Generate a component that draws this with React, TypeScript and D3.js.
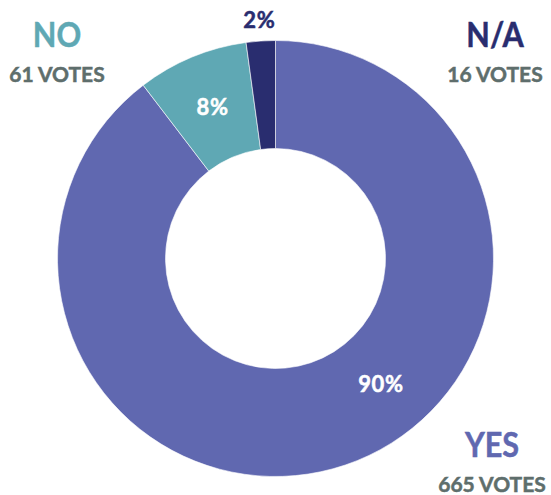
import * as d3 from 'd3';

// Poll answers, clockwise from 12 o'clock
const answers = ['YES', 'NO', 'N/A'];
const votes = [665, 61, 16];
const percentLabels = ['90%', '8%', '2%'];
const colors = ['#6068B0', '#5FA8B4', '#292D6F'];

const W = 551;
const H = 495;
const cx = 275.5;
const cy = 258.5;
const outerR = 218;
const innerR = 110;

const FONT = 'Lato, "Open Sans", sans-serif';
const GRAY = '#5E6E6C';

export default function App() {
  const pie = d3.pie<number>().sort(null).value((d) => d);
  const arcs = pie(votes);
  const arc = d3.arc<d3.PieArcDatum<number>>().innerRadius(innerR).outerRadius(outerR);

  const mid = (a: d3.PieArcDatum<number>) => (a.startAngle + a.endAngle) / 2;
  const labelPos = (i: number): [number, number] => {
    const a = arcs[i];
    let ang = mid(a);
    let r = (innerR + outerR) / 2;
    if (i === 0) ang = (140 * Math.PI) / 180; // big slice label pushed toward lower right
    if (i === 2) r = outerR + 21; // tiny slice label sits outside
    return [Math.sin(ang) * r, -Math.cos(ang) * r];
  };

  // captions in the corners
  const captions = [
    { x: 492, y: 457 },
    { x: 57, y: 47 },
    { x: 495, y: 47 },
  ];

  return (
    <svg
      width={W}
      height={H}
      style={{ position: 'absolute', left: 0, top: 0, display: 'block' }}
    >
      <g transform={`translate(${cx},${cy})`}>
        {arcs.map((a, i) => (
          <path key={answers[i]} d={arc(a) ?? ''} fill={colors[i]} stroke="#fff" strokeWidth={0.6} />
        ))}
        {arcs.map((_a, i) => {
          const [x, y] = labelPos(i);
          const c = i === 2 ? colors[2] : '#fff';
          return (
            <text
              key={'p' + i}
              x={x}
              y={y}
              dy="0.36em"
              textAnchor="middle"
              fontFamily={FONT}
              fontWeight={700}
              fontSize={22}
              letterSpacing={0.6}
              fill={c}
              stroke={c}
              strokeWidth={0.5}
            >
              {percentLabels[i]}
            </text>
          );
        })}
      </g>
      {captions.map((c, i) => (
        <g key={'c' + i} transform={`translate(${c.x},0)`}>
          <text
            x={0}
            y={c.y}
            transform="scale(0.9,1)"
            textAnchor="middle"
            fontFamily={FONT}
            fontWeight={700}
            fontSize={34}
            fill={colors[i]}
            stroke={colors[i]}
            strokeWidth={0.5}
          >
            {answers[i]}
          </text>
          <text
            x={0}
            y={c.y + 35}
            textAnchor="middle"
            fontFamily={FONT}
            fontWeight={700}
            fontSize={21}
            fill={GRAY}
            stroke={GRAY}
            strokeWidth={0.5}
          >
            {`${votes[i]} VOTES`}
          </text>
        </g>
      ))}
    </svg>
  );
}
